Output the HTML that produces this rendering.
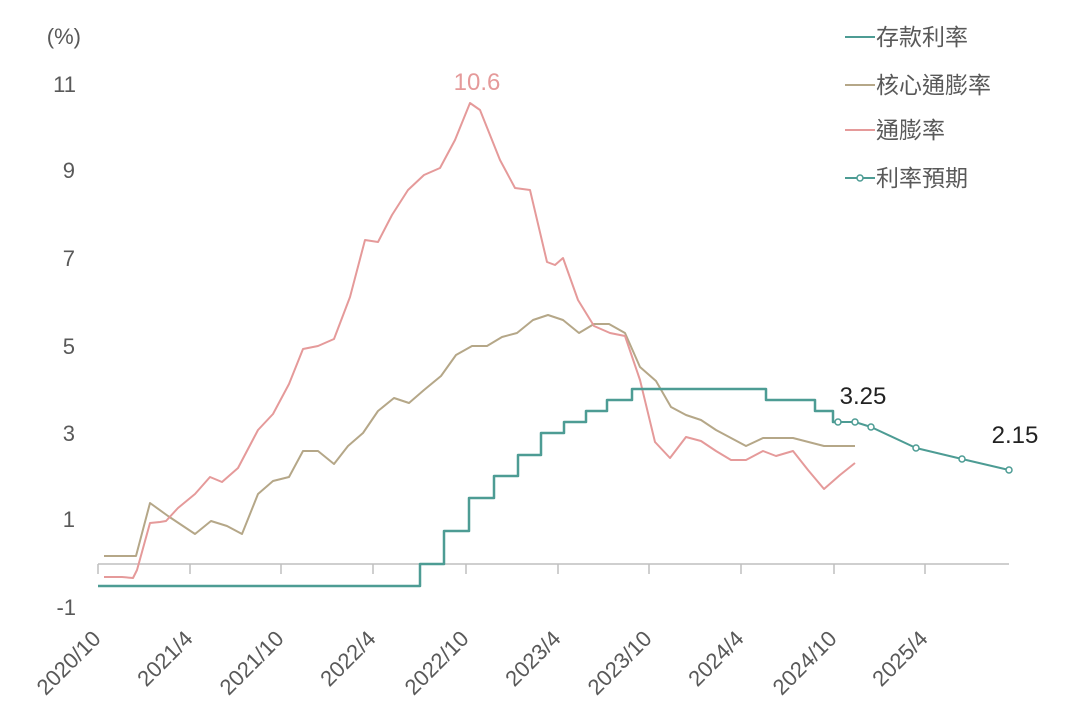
<!DOCTYPE html>
<html><head><meta charset="utf-8"><style>body{margin:0;background:#fff}svg{display:block}text{font-family:"Liberation Sans","Noto Sans CJK TC",sans-serif}</style></head><body>
<svg width="1077" height="718" viewBox="0 0 1077 718">
<g fill="#595959" font-size="22" text-anchor="end">
<text x="81" y="44">(%)</text>
<text x="76" y="92">11</text><text x="75" y="178">9</text><text x="75" y="266">7</text><text x="75" y="354">5</text><text x="75" y="441">3</text><text x="75" y="527">1</text><text x="76" y="615">-1</text>
</g>
<g stroke="#bfbfbf" stroke-width="1.5" fill="none">
<line x1="98" y1="564" x2="1009" y2="564"/>
<path d="M98 564v10M190 564v10M281 564v10M373 564v10M466 564v10M558 564v10M649 564v10M741 564v10M834 564v10M925 564v10"/>
</g>
<g fill="#595959" font-size="22" text-anchor="end">
<text transform="translate(102,640) rotate(-45)">2020/10</text>
<text transform="translate(194,640) rotate(-45)">2021/4</text>
<text transform="translate(285,640) rotate(-45)">2021/10</text>
<text transform="translate(377,640) rotate(-45)">2022/4</text>
<text transform="translate(470,640) rotate(-45)">2022/10</text>
<text transform="translate(562,640) rotate(-45)">2023/4</text>
<text transform="translate(653,640) rotate(-45)">2023/10</text>
<text transform="translate(745,640) rotate(-45)">2024/4</text>
<text transform="translate(838,640) rotate(-45)">2024/10</text>
<text transform="translate(929,640) rotate(-45)">2025/4</text>
</g>
<g fill="none" stroke-width="2" stroke-linejoin="round">
<polyline stroke="#b5a788" points="104,556 136,556 150,503 168,516 195,534 211,521 227,526 242,534 258,494 273,481 289,477 303,451 318,451 334,464 348,446 363,433 378,411 394,398 409,403 424,390 441,376 456,355 472,346 487,346 502,337 517,333 533,320 548,315 563,320 579,333 594,324 609,324 625,333 640,367 656,381 671,407 686,415 701,420 716,430 731,438 746,446 763,438 793,438 824,446 855,446"/>
<polyline stroke="#e59a9a" points="104,577 122,577 133,578 137,570 150,523 160,522 166,521 178,508 195,494 210,477 222,482 238,468 258,430 273,414 289,384 303,349 318,346 334,339 350,297 365,240 378,242 392,215 408,190 424,175 440,168 455,140 470,103 480,110 500,160 515,188 530,190 547,262 555,265 563,258 578,300 594,326 610,333 625,336 640,380 655,442 670,458 686,437 701,441 716,451 731,460 746,460 763,451 776,456 793,451 808,470 824,489 840,475 855,463"/>
<polyline stroke="#4d9c94" stroke-width="2.5" points="98,586 420,586 420,564 444,564 444,531 469,531 469,498 494,498 494,476 518,476 518,455 541,455 541,433 564,433 564,422 586,422 586,411 607,411 607,400 632,400 632,389 766,389 766,400 815,400 815,411 833,411 833,422 838,422"/>
<polyline stroke="#4d9c94" points="838,422 855,422 871,427 916,448 962,459 1009,470"/>
</g>
<g fill="#fff" stroke="#4d9c94" stroke-width="1.5">
<circle cx="838" cy="422" r="3"/><circle cx="855" cy="422" r="3"/><circle cx="871" cy="427" r="3"/><circle cx="916" cy="448" r="3"/><circle cx="962" cy="459" r="3"/><circle cx="1009" cy="470" r="3"/>
</g>
<text x="477" y="90" font-size="24" fill="#e59a9a" text-anchor="middle">10.6</text>
<text x="863" y="404" font-size="24" fill="#222" text-anchor="middle">3.25</text>
<text x="1015" y="443" font-size="24" fill="#222" text-anchor="middle">2.15</text>
<g font-size="23" fill="#595959">
<line x1="845" y1="37" x2="875" y2="37" stroke="#4d9c94" stroke-width="2"/><text x="876" y="45">存款利率</text>
<line x1="845" y1="85" x2="875" y2="85" stroke="#b5a788" stroke-width="2"/><text x="876" y="93">核心通膨率</text>
<line x1="845" y1="130" x2="875" y2="130" stroke="#e59a9a" stroke-width="2"/><text x="876" y="138">通膨率</text>
<line x1="845" y1="178" x2="875" y2="178" stroke="#4d9c94" stroke-width="2"/><circle cx="860" cy="178" r="3" fill="#fff" stroke="#4d9c94" stroke-width="1.5"/><text x="876" y="186">利率預期</text>
</g>
</svg>
</body></html>
